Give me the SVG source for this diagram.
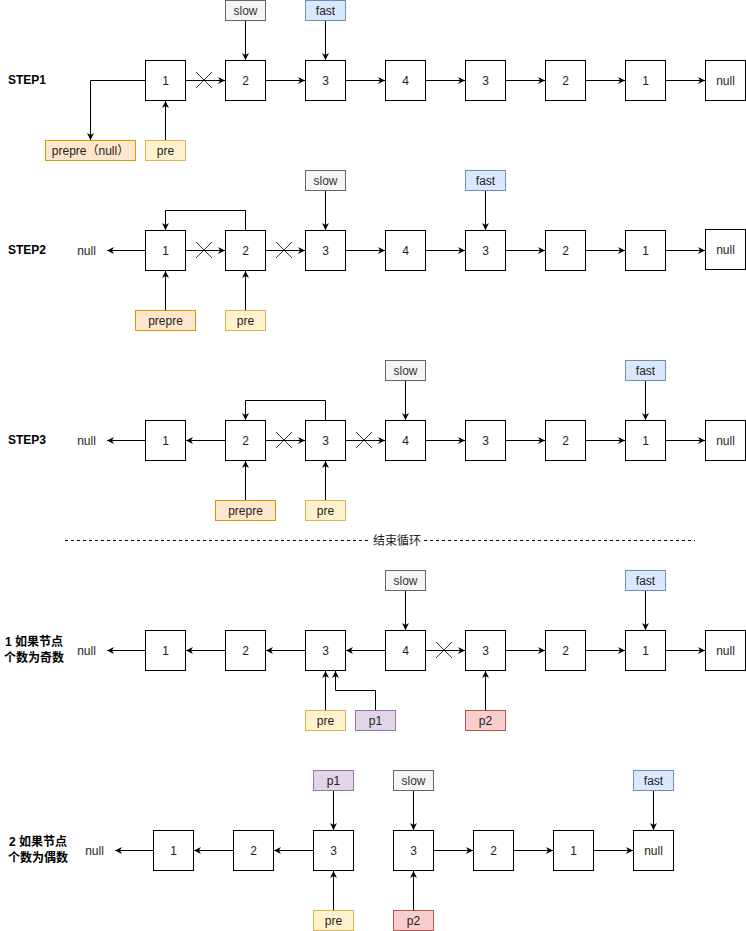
<svg xmlns="http://www.w3.org/2000/svg" width="746" height="931" viewBox="0 0 746 931">
<style>
.n rect{fill:#fff;stroke:#000;stroke-width:1}
.t{font-family:"Liberation Sans",Arial,sans-serif;font-size:12px;fill:#222;text-anchor:middle;dominant-baseline:central}
.b{font-family:"Liberation Sans","Noto Sans CJK SC",sans-serif;font-size:12px;font-weight:bold;fill:#000;dominant-baseline:central}
.c{font-family:"Liberation Sans","Noto Sans CJK SC",sans-serif;font-size:12px;fill:#222;text-anchor:middle;dominant-baseline:central}
.e{fill:none;stroke:#000;stroke-width:1}
.a{marker-end:url(#ah)}
.x{stroke:#000;stroke-width:0.8;fill:none}
.slow rect{fill:#f5f5f5;stroke:#666}
.fast rect{fill:#dae8fc;stroke:#6c8ebf}
.pp rect{fill:#ffe6cc;stroke:#d79b00}
.pre rect{fill:#fff2cc;stroke:#d6b656}
.p1 rect{fill:#e1d5e7;stroke:#9673a6}
.p2 rect{fill:#f8cecc;stroke:#b85450}
.slow text{fill:#333}
</style>
<defs>
<marker id="ah" viewBox="0 0 10 10" refX="10" refY="5" markerWidth="7" markerHeight="7" markerUnits="userSpaceOnUse" orient="auto"><path d="M0,0 L10,5 L0,10 L3,5 z" fill="#000"/></marker>
</defs>
<rect width="746" height="931" fill="#fff"/>

<!-- ROW 1 -->
<g id="step1-label"><text class="b" x="8" y="80">STEP1</text></g>
<g id="r1n1" class="n"><rect x="145.5" y="60.5" width="40" height="40"/><text class="t" x="165.5" y="80.5">1</text></g>
<g id="r1n2" class="n"><rect x="225.5" y="60.5" width="40" height="40"/><text class="t" x="245.5" y="80.5">2</text></g>
<g id="r1n3" class="n"><rect x="305.5" y="60.5" width="40" height="40"/><text class="t" x="325.5" y="80.5">3</text></g>
<g id="r1n4" class="n"><rect x="385.5" y="60.5" width="40" height="40"/><text class="t" x="405.5" y="80.5">4</text></g>
<g id="r1n5" class="n"><rect x="465.5" y="60.5" width="40" height="40"/><text class="t" x="485.5" y="80.5">3</text></g>
<g id="r1n6" class="n"><rect x="545.5" y="60.5" width="40" height="40"/><text class="t" x="565.5" y="80.5">2</text></g>
<g id="r1n7" class="n"><rect x="625.5" y="60.5" width="40" height="40"/><text class="t" x="645.5" y="80.5">1</text></g>
<g id="r1null" class="n"><rect x="705.5" y="60.5" width="40" height="40"/><text class="t" x="725.5" y="80.5">null</text></g>
<g id="r1slow" class="n slow"><rect x="225.5" y="0.5" width="40" height="20"/><text class="t" x="245.5" y="10.5">slow</text></g>
<g id="r1fast" class="n fast"><rect x="305.5" y="0.5" width="40" height="20"/><text class="t" x="325.5" y="10.5">fast</text></g>
<g id="r1prepre" class="n pp"><rect x="45.5" y="140.5" width="90" height="20"/><text class="c" x="90.5" y="150.5">prepre（null）</text></g>
<g id="r1pre" class="n pre"><rect x="145.5" y="140.5" width="40" height="20"/><text class="t" x="165.5" y="150.5">pre</text></g>

<!-- ROW 2 -->
<g id="step2-label"><text class="b" x="8" y="250">STEP2</text></g>
<g id="r2nulltext"><text class="t" x="86.5" y="250.5">null</text></g>
<g id="r2n1" class="n"><rect x="145.5" y="230.5" width="40" height="40"/><text class="t" x="165.5" y="250.5">1</text></g>
<g id="r2n2" class="n"><rect x="225.5" y="230.5" width="40" height="40"/><text class="t" x="245.5" y="250.5">2</text></g>
<g id="r2n3" class="n"><rect x="305.5" y="230.5" width="40" height="40"/><text class="t" x="325.5" y="250.5">3</text></g>
<g id="r2n4" class="n"><rect x="385.5" y="230.5" width="40" height="40"/><text class="t" x="405.5" y="250.5">4</text></g>
<g id="r2n5" class="n"><rect x="465.5" y="230.5" width="40" height="40"/><text class="t" x="485.5" y="250.5">3</text></g>
<g id="r2n6" class="n"><rect x="545.5" y="230.5" width="40" height="40"/><text class="t" x="565.5" y="250.5">2</text></g>
<g id="r2n7" class="n"><rect x="625.5" y="230.5" width="40" height="40"/><text class="t" x="645.5" y="250.5">1</text></g>
<g id="r2null" class="n"><rect x="705.5" y="229.5" width="40" height="40"/><text class="t" x="725.5" y="249.5">null</text></g>
<g id="r2slow" class="n slow"><rect x="305.5" y="170.5" width="40" height="20"/><text class="t" x="325.5" y="180.5">slow</text></g>
<g id="r2fast" class="n fast"><rect x="465.5" y="170.5" width="40" height="20"/><text class="t" x="485.5" y="180.5">fast</text></g>
<g id="r2prepre" class="n pp"><rect x="135.5" y="310.5" width="60" height="20"/><text class="t" x="165.5" y="320.5">prepre</text></g>
<g id="r2pre" class="n pre"><rect x="225.5" y="310.5" width="40" height="20"/><text class="t" x="245.5" y="320.5">pre</text></g>

<!-- ROW 3 -->
<g id="step3-label"><text class="b" x="8" y="440">STEP3</text></g>
<g id="r3nulltext"><text class="t" x="86.5" y="440.5">null</text></g>
<g id="r3n1" class="n"><rect x="145.5" y="420.5" width="40" height="40"/><text class="t" x="165.5" y="440.5">1</text></g>
<g id="r3n2" class="n"><rect x="225.5" y="420.5" width="40" height="40"/><text class="t" x="245.5" y="440.5">2</text></g>
<g id="r3n3" class="n"><rect x="305.5" y="420.5" width="40" height="40"/><text class="t" x="325.5" y="440.5">3</text></g>
<g id="r3n4" class="n"><rect x="385.5" y="420.5" width="40" height="40"/><text class="t" x="405.5" y="440.5">4</text></g>
<g id="r3n5" class="n"><rect x="465.5" y="420.5" width="40" height="40"/><text class="t" x="485.5" y="440.5">3</text></g>
<g id="r3n6" class="n"><rect x="545.5" y="420.5" width="40" height="40"/><text class="t" x="565.5" y="440.5">2</text></g>
<g id="r3n7" class="n"><rect x="625.5" y="420.5" width="40" height="40"/><text class="t" x="645.5" y="440.5">1</text></g>
<g id="r3null" class="n"><rect x="705.5" y="420.5" width="40" height="40"/><text class="t" x="725.5" y="440.5">null</text></g>
<g id="r3slow" class="n slow"><rect x="385.5" y="360.5" width="40" height="20"/><text class="t" x="405.5" y="370.5">slow</text></g>
<g id="r3fast" class="n fast"><rect x="625.5" y="360.5" width="40" height="20"/><text class="t" x="645.5" y="370.5">fast</text></g>
<g id="r3prepre" class="n pp"><rect x="215.5" y="500.5" width="60" height="20"/><text class="t" x="245.5" y="510.5">prepre</text></g>
<g id="r3pre" class="n pre"><rect x="305.5" y="500.5" width="40" height="20"/><text class="t" x="325.5" y="510.5">pre</text></g>

<!-- separator -->
<g id="separator">
<line x1="65" y1="540.5" x2="370" y2="540.5" stroke="#000" stroke-dasharray="3,3"/>
<line x1="424" y1="540.5" x2="695" y2="540.5" stroke="#000" stroke-dasharray="3,3"/>
<text class="c" x="397" y="540.5">结束循环</text>
</g>

<!-- ROW 4 -->
<g id="odd-label"><text class="b" x="34" y="642" text-anchor="middle">1 如果节点</text><text class="b" x="34" y="658" text-anchor="middle">个数为奇数</text></g>
<g id="r4nulltext"><text class="t" x="86.5" y="650.5">null</text></g>
<g id="r4n1" class="n"><rect x="145.5" y="630.5" width="40" height="40"/><text class="t" x="165.5" y="650.5">1</text></g>
<g id="r4n2" class="n"><rect x="225.5" y="630.5" width="40" height="40"/><text class="t" x="245.5" y="650.5">2</text></g>
<g id="r4n3" class="n"><rect x="305.5" y="630.5" width="40" height="40"/><text class="t" x="325.5" y="650.5">3</text></g>
<g id="r4n4" class="n"><rect x="385.5" y="630.5" width="40" height="40"/><text class="t" x="405.5" y="650.5">4</text></g>
<g id="r4n5" class="n"><rect x="465.5" y="630.5" width="40" height="40"/><text class="t" x="485.5" y="650.5">3</text></g>
<g id="r4n6" class="n"><rect x="545.5" y="630.5" width="40" height="40"/><text class="t" x="565.5" y="650.5">2</text></g>
<g id="r4n7" class="n"><rect x="625.5" y="630.5" width="40" height="40"/><text class="t" x="645.5" y="650.5">1</text></g>
<g id="r4null" class="n"><rect x="705.5" y="630.5" width="40" height="40"/><text class="t" x="725.5" y="650.5">null</text></g>
<g id="r4slow" class="n slow"><rect x="385.5" y="570.5" width="40" height="20"/><text class="t" x="405.5" y="580.5">slow</text></g>
<g id="r4fast" class="n fast"><rect x="625.5" y="570.5" width="40" height="20"/><text class="t" x="645.5" y="580.5">fast</text></g>
<g id="r4pre" class="n pre"><rect x="305.5" y="710.5" width="40" height="20"/><text class="t" x="325.5" y="720.5">pre</text></g>
<g id="r4p1" class="n p1"><rect x="355.5" y="710.5" width="40" height="20"/><text class="t" x="375.5" y="720.5">p1</text></g>
<g id="r4p2" class="n p2"><rect x="465.5" y="710.5" width="40" height="20"/><text class="t" x="485.5" y="720.5">p2</text></g>

<!-- ROW 5 -->
<g id="even-label"><text class="b" x="38" y="842" text-anchor="middle">2 如果节点</text><text class="b" x="38" y="858" text-anchor="middle">个数为偶数</text></g>
<g id="r5nulltext"><text class="t" x="94.5" y="850.5">null</text></g>
<g id="r5n1" class="n"><rect x="153.5" y="830.5" width="40" height="40"/><text class="t" x="173.5" y="850.5">1</text></g>
<g id="r5n2" class="n"><rect x="233.5" y="830.5" width="40" height="40"/><text class="t" x="253.5" y="850.5">2</text></g>
<g id="r5n3" class="n"><rect x="313.5" y="830.5" width="40" height="40"/><text class="t" x="333.5" y="850.5">3</text></g>
<g id="r5n4" class="n"><rect x="393.5" y="830.5" width="40" height="40"/><text class="t" x="413.5" y="850.5">3</text></g>
<g id="r5n5" class="n"><rect x="473.5" y="830.5" width="40" height="40"/><text class="t" x="493.5" y="850.5">2</text></g>
<g id="r5n6" class="n"><rect x="553.5" y="830.5" width="40" height="40"/><text class="t" x="573.5" y="850.5">1</text></g>
<g id="r5null" class="n"><rect x="633.5" y="830.5" width="40" height="40"/><text class="t" x="653.5" y="850.5">null</text></g>
<g id="r5p1" class="n p1"><rect x="313.5" y="770.5" width="40" height="20"/><text class="t" x="333.5" y="780.5">p1</text></g>
<g id="r5pre" class="n pre"><rect x="313.5" y="910.5" width="40" height="20"/><text class="t" x="333.5" y="920.5">pre</text></g>
<g id="r5slow" class="n slow"><rect x="393.5" y="770.5" width="40" height="20"/><text class="t" x="413.5" y="780.5">slow</text></g>
<g id="r5p2" class="n p2"><rect x="393.5" y="910.5" width="40" height="20"/><text class="t" x="413.5" y="920.5">p2</text></g>
<g id="r5fast" class="n fast"><rect x="633.5" y="770.5" width="40" height="20"/><text class="t" x="653.5" y="780.5">fast</text></g>

<!-- CONNECTORS -->
<g id="connectors" class="e">
<!-- row1 -->
<path class="a" d="M186,80.5 H225"/>
<path class="a" d="M266,80.5 H305"/>
<path class="a" d="M346,80.5 H385"/>
<path class="a" d="M426,80.5 H465"/>
<path class="a" d="M506,80.5 H545"/>
<path class="a" d="M586,80.5 H625"/>
<path class="a" d="M666,80.5 H705"/>
<path class="a" d="M145,80.5 H90.5 V140"/>
<path class="a" d="M165.5,140 V101"/>
<path class="a" d="M245.5,21 V60"/>
<path class="a" d="M325.5,21 V60"/>
<!-- row2 -->
<path class="a" d="M145,250.5 H107"/>
<path class="a" d="M186,250.5 H225"/>
<path class="a" d="M266,250.5 H305"/>
<path class="a" d="M346,250.5 H385"/>
<path class="a" d="M426,250.5 H465"/>
<path class="a" d="M506,250.5 H545"/>
<path class="a" d="M586,250.5 H625"/>
<path class="a" d="M666,250.5 H705"/>
<path class="a" d="M245.5,230 V210.5 H165.5 V230"/>
<path class="a" d="M165.5,310 V271"/>
<path class="a" d="M245.5,310 V271"/>
<path class="a" d="M325.5,191 V230"/>
<path class="a" d="M485.5,191 V230"/>
<!-- row3 -->
<path class="a" d="M145,440.5 H107"/>
<path class="a" d="M225,440.5 H186"/>
<path class="a" d="M266,440.5 H305"/>
<path class="a" d="M346,440.5 H385"/>
<path class="a" d="M426,440.5 H465"/>
<path class="a" d="M506,440.5 H545"/>
<path class="a" d="M586,440.5 H625"/>
<path class="a" d="M666,440.5 H705"/>
<path class="a" d="M325.5,420 V400.5 H245.5 V420"/>
<path class="a" d="M245.5,500 V461"/>
<path class="a" d="M325.5,500 V461"/>
<path class="a" d="M405.5,381 V420"/>
<path class="a" d="M645.5,381 V420"/>
<!-- row4 -->
<path class="a" d="M145,650.5 H107"/>
<path class="a" d="M225,650.5 H186"/>
<path class="a" d="M305,650.5 H266"/>
<path class="a" d="M385,650.5 H346"/>
<path class="a" d="M426,650.5 H465"/>
<path class="a" d="M506,650.5 H545"/>
<path class="a" d="M586,650.5 H625"/>
<path class="a" d="M666,650.5 H705"/>
<path class="a" d="M405.5,591 V630"/>
<path class="a" d="M645.5,591 V630"/>
<path class="a" d="M325.5,710 V671"/>
<path class="a" d="M375.5,710 V690.5 H335.5 V671"/>
<path class="a" d="M485.5,710 V671"/>
<!-- row5 -->
<path class="a" d="M153,850.5 H115"/>
<path class="a" d="M233,850.5 H194"/>
<path class="a" d="M313,850.5 H274"/>
<path class="a" d="M434,850.5 H473"/>
<path class="a" d="M514,850.5 H553"/>
<path class="a" d="M594,850.5 H633"/>
<path class="a" d="M333.5,791 V830"/>
<path class="a" d="M333.5,910 V871"/>
<path class="a" d="M413.5,791 V830"/>
<path class="a" d="M413.5,910 V871"/>
<path class="a" d="M653.5,791 V830"/>
</g>

<!-- X marks on cut links -->
<g id="cuts" class="x">
<path d="M196,72 L212,88 M212,72 L196,88"/>
<path d="M196,242 L212,258 M212,242 L196,258"/>
<path d="M276,242 L292,258 M292,242 L276,258"/>
<path d="M276,432 L292,448 M292,432 L276,448"/>
<path d="M356,432 L372,448 M372,432 L356,448"/>
<path d="M436,642 L452,658 M452,642 L436,658"/>
</g>
</svg>
